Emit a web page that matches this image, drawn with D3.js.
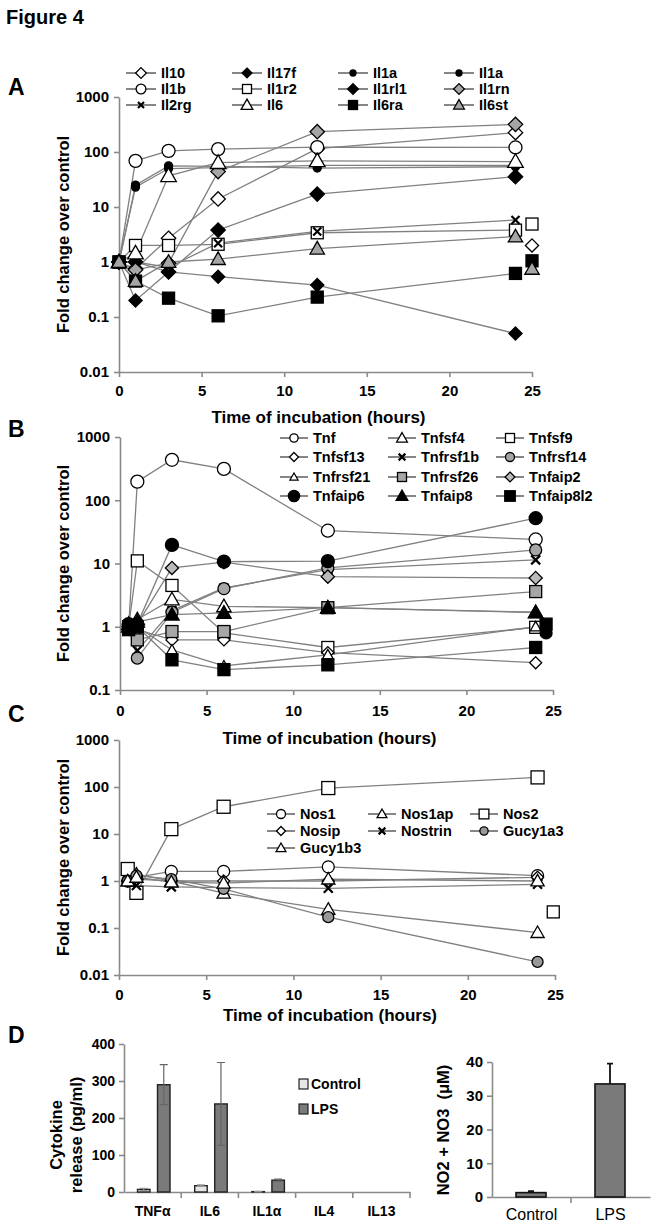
<!DOCTYPE html>
<html><head><meta charset="utf-8">
<script src="https://cdn.jsdelivr.net/npm/d3@7"></script>
<style>body{margin:0;background:#fff;} svg{display:block;}</style>
</head><body><svg id="c" width="653" height="1229"></svg>
<script>
// ---------- Panel A data ----------
const timeA = [0, 1, 3, 6, 12, 24];
const namesA = ["Il10","Il17f","Il1a","Il1a","Il1b","Il1r2","Il1rl1","Il1rn","Il2rg","Il6","Il6ra","Il6st"];
const il10   = [1, 0.75, 2.7, 14, 115, 225];
const il17f  = [1, 0.2, 0.66, 0.54, 0.38, 0.05];
const il1a_1 = [1, 25, 56, 55, 51, 54];
const il1a_2 = [1, 23, 50, 52, 57, 57];
const il1b   = [1, 69, 105, 113, 123, 121];
const il1r2  = [1, 2.0, 2.0, 2.1, 3.4, 3.8];
const il1rl1 = [1, 1.0, 0.66, 3.8, 17.2, 35.5];
const il1rn  = [1, 0.72, 0.95, 44, 234, 318];
const il2rg  = [1, 1.0, 0.8, 2.2, 3.6, 5.8];
const il6    = [1, 1.45, 37, 64, 69, 67];
const il6ra  = [1, 0.45, 0.22, 0.105, 0.23, 0.62];
const il6st  = [1, 0.45, 1.0, 1.13, 1.75, 2.9];
const extraTimeA = 25;
const extraA = [4.9, 2.0, 1.05, 0.95, 0.75];

// ---------- Panel B data ----------
const timeB = [0.5, 1, 3, 6, 12, 24];
const namesB = ["Tnf","Tnfsf4","Tnfsf9","Tnfsf13","Tnfrsf1b","Tnfrsf14","Tnfrsf21","Tnfrsf26","Tnfaip2","Tnfaip6","Tnfaip8","Tnfaip8l2"];
const tnf       = [1.0, 197, 436, 313, 33, 24];
const tnfsf4    = [1.1, 1.3, 2.7, 2.1, 2.0, 1.7];
const tnfsf9    = [1.0, 11, 4.5, 0.8, 0.47, 0.98];
const tnfsf13   = [1.0, 0.9, 0.62, 0.62, 0.39, 0.27];
const tnfrsf1b  = [1.0, 0.42, 1.8, 4.1, 8.0, 11.4];
const tnfrsf14  = [1.0, 0.32, 1.7, 4.0, 8.5, 16.4];
const tnfrsf21  = [1.1, 1.0, 0.43, 0.24, 0.36, 1.0];
const tnfrsf26  = [1.0, 0.62, 0.84, 0.84, 2.0, 3.6];
const tnfaip2   = [1.0, 1.1, 8.5, 10.5, 6.2, 5.9];
const tnfaip6   = [1.1, 1.1, 19.7, 10.7, 10.9, 52];
const tnfaip8   = [1.0, 1.2, 1.55, 1.66, 2.0, 1.68];
const tnfaip8l2 = [0.9, 1.0, 0.3, 0.21, 0.25, 0.47];
const extraTimeB = 24.6;
const extraB = [0.8, 1.1];

// ---------- Panel C data ----------
const timeC = [0.5, 1, 3, 6, 12, 24];
const namesC = ["Nos1","Nos1ap","Nos2","Nosip","Nostrin","Gucy1a3","Gucy1b3"];
const nos1    = [1.0, 1.2, 1.6, 1.6, 2.0, 1.3];
const nos1ap  = [1.0, 1.4, 1.0, 0.55, 0.25, 0.08];
const nos2    = [1.8, 0.56, 12.7, 38, 95, 160];
const nosip   = [1.0, 1.1, 1.0, 1.0, 1.0, 1.2];
const nostrin = [1.0, 0.8, 0.75, 0.72, 0.7, 0.85];
const gucy1a3 = [1.0, 1.3, 1.1, 0.68, 0.17, 0.019];
const gucy1b3 = [1.0, 1.2, 0.95, 0.9, 1.1, 1.0];
const extraTimeC = 24.9;
const extraC = [0.22];

// ---------- Panel D data ----------
const cytokines = ["TNFα","IL6","IL1α","IL4","IL13"];
const ctrlRelease = [7, 17, 1, 0, 0];
const ctrlErr = [3, 2, 0.5, 0, 0];
const lpsRelease = [290, 238, 32, 0, 0];
const lpsErr = [54, 112, 3, 0, 0];
const noGroups = ["Control","LPS"];
const noValues = [1.3, 33.5];
const noErr = [0.4, 6];

const logTicks = [0.01, 0.1, 1, 10, 100, 1000];
const timeTicks = [0, 5, 10, 15, 20, 25];

// ---------- drawing ----------
const FONT = '"Liberation Sans", Arial, Helvetica, sans-serif';
const svg = d3.select("#c").style("font-family", FONT);
const LINE = "#808080", AX = "#8a8a8a", GRAY = "#a6a6a6";

function marker(g, m, x, y, scale) {
  const s = m.s * (scale || 1);
  let el;
  if (m.t === "circle") el = g.append("circle").attr("cx", x).attr("cy", y).attr("r", s / 2);
  else if (m.t === "square") el = g.append("rect").attr("x", x - s / 2).attr("y", y - s / 2).attr("width", s).attr("height", s);
  else if (m.t === "diamond") el = g.append("path").attr("d", `M${x},${y - s * 0.6}L${x + s * 0.6},${y}L${x},${y + s * 0.6}L${x - s * 0.6},${y}Z`);
  else if (m.t === "triangle") el = g.append("path").attr("d", `M${x},${y - s * 0.6}L${x + s * 0.6},${y + s * 0.45}L${x - s * 0.6},${y + s * 0.45}Z`);
  else if (m.t === "x") {
    const h = s / 2;
    g.append("path").attr("d", `M${x - h},${y - h}L${x + h},${y + h}M${x - h},${y + h}L${x + h},${y - h}`)
      .attr("stroke", "#000").attr("stroke-width", 2.2).attr("fill", "none");
    return;
  }
  el.attr("stroke", "#000").attr("stroke-width", 1.3).attr("fill", m.f);
}

function logPanel(opt) {
  const x = d3.scaleLinear().domain([0, 25]).range(opt.xr);
  const y = d3.scaleLog().domain(opt.yd).range(opt.yr);
  const g = svg.append("g");
  const ya = g.append("g").attr("transform", `translate(${opt.xr[0]},0)`)
    .call(d3.axisLeft(y).tickValues(logTicks.filter(v => v >= opt.yd[0])).tickFormat(d => String(d)).tickSize(5).tickSizeOuter(0));
  const xa = g.append("g").attr("transform", `translate(0,${opt.yr[0]})`)
    .call(d3.axisBottom(x).tickValues(timeTicks).tickSize(5).tickSizeOuter(0));
  [ya, xa].forEach(a => {
    a.selectAll("path,line").attr("stroke", AX).attr("stroke-width", 1.6);
    a.selectAll("text").attr("fill", "#000").attr("font-size", 15).attr("font-weight", "bold").attr("font-family", FONT);
  });
  ya.selectAll("text").attr("x", -10);
  xa.selectAll("text").attr("y", opt.tickY);
  g.append("text").attr("x", (opt.xr[0] + opt.xr[1]) / 2 - 7).attr("y", opt.titleY)
    .attr("text-anchor", "middle").attr("font-size", 17).attr("font-weight", "bold").text("Time of incubation (hours)");
  g.append("text").attr("transform", `translate(${opt.ylabX},${(opt.yr[0] + opt.yr[1]) / 2}) rotate(-90)`)
    .attr("text-anchor", "middle").attr("dominant-baseline", "central")
    .attr("font-size", 16.5).attr("font-weight", "bold").text("Fold change over control");
  const lg = d3.line().x(d => x(d[0])).y(d => y(d[1]));
  opt.series.forEach(s => {
    g.append("path").attr("d", lg(opt.times.map((t, i) => [t, s.v[i]])))
      .attr("fill", "none").attr("stroke", LINE).attr("stroke-width", 1.3);
  });
  opt.series.forEach(s => {
    opt.times.forEach((t, i) => marker(g, s.m, x(t), y(s.v[i])));
  });
  (opt.extras || []).forEach(e => marker(g, e.m, x(e.t), y(e.v)));
  opt.series.forEach((s, i) => {
    const col = i % opt.cols, row = Math.floor(i / opt.cols);
    const lx = opt.legX[col], ly = opt.legY[row];
    g.append("line").attr("x1", lx).attr("x2", lx + opt.legLen).attr("y1", ly).attr("y2", ly)
      .attr("stroke", "#444").attr("stroke-width", 1.3);
    marker(g, s.lm || s.m, lx + opt.legLen / 2, ly, 0.75);
    g.append("text").attr("x", lx + opt.legLen + 5).attr("y", ly).attr("dominant-baseline", "central")
      .attr("font-size", 14.5).attr("font-weight", "bold").text(s.name);
  });
}

const OPEN = "#fff", BLACK = "#000";

// Panel A
const seriesA = [
  {v: il10,  m: {t: "diamond", f: OPEN, s: 12}},
  {v: il17f, m: {t: "diamond", f: BLACK, s: 11}},
  {v: il1a_1, m: {t: "circle", f: BLACK, s: 8}},
  {v: il1a_2, m: {t: "circle", f: BLACK, s: 8}},
  {v: il1b,  m: {t: "circle", f: OPEN, s: 13}},
  {v: il1r2, m: {t: "square", f: OPEN, s: 12}},
  {v: il1rl1, m: {t: "diamond", f: BLACK, s: 12}},
  {v: il1rn, m: {t: "diamond", f: GRAY, s: 12}},
  {v: il2rg, m: {t: "x", f: BLACK, s: 8}},
  {v: il6,   m: {t: "triangle", f: OPEN, s: 13}},
  {v: il6ra, m: {t: "square", f: BLACK, s: 12}},
  {v: il6st, m: {t: "triangle", f: GRAY, s: 12}}
].map((s, i) => Object.assign(s, {name: namesA[i]}));
const extraMarkA = [{t: "square", f: OPEN, s: 12}, {t: "diamond", f: OPEN, s: 11}, {t: "square", f: BLACK, s: 12}, {t: "circle", f: BLACK, s: 9}, {t: "triangle", f: GRAY, s: 12}];
logPanel({
  xr: [119, 532], yd: [0.01, 1000], yr: [372, 97], times: timeA, series: seriesA,
  extras: extraA.map((v, i) => ({t: extraTimeA, v, m: extraMarkA[i]})),
  tickY: 13, titleY: 423, ylabX: 63, cols: 4, legLen: 30,
  legX: [126, 232, 338, 444], legY: [73, 89, 105]
});

// Panel B
const seriesB = [
  {v: tnf, m: {t: "circle", f: OPEN, s: 13}, lm: {t: "circle", f: OPEN, s: 11}},
  {v: tnfsf4, m: {t: "triangle", f: OPEN, s: 12}},
  {v: tnfsf9, m: {t: "square", f: OPEN, s: 12}},
  {v: tnfsf13, m: {t: "diamond", f: OPEN, s: 10}},
  {v: tnfrsf1b, m: {t: "x", f: BLACK, s: 9}},
  {v: tnfrsf14, m: {t: "circle", f: GRAY, s: 12}},
  {v: tnfrsf21, m: {t: "triangle", f: OPEN, s: 9}},
  {v: tnfrsf26, m: {t: "square", f: GRAY, s: 12}},
  {v: tnfaip2, m: {t: "diamond", f: "#bbb", s: 11}},
  {v: tnfaip6, m: {t: "circle", f: BLACK, s: 13}, lm: {t: "circle", f: BLACK, s: 15}},
  {v: tnfaip8, m: {t: "triangle", f: BLACK, s: 12}, lm: {t: "triangle", f: BLACK, s: 13}},
  {v: tnfaip8l2, m: {t: "square", f: BLACK, s: 12}, lm: {t: "square", f: BLACK, s: 14}}
].map((s, i) => Object.assign(s, {name: namesB[i]}));
const extraMarkB = [{t: "circle", f: BLACK, s: 12}, {t: "square", f: BLACK, s: 12}];
logPanel({
  xr: [120, 553], yd: [0.1, 1000], yr: [690, 437], times: timeB, series: seriesB,
  extras: extraB.map((v, i) => ({t: extraTimeB, v, m: extraMarkB[i]})),
  tickY: 15, titleY: 744, ylabX: 63, cols: 3, legLen: 28,
  legX: [280, 388, 496], legY: [438, 457, 477, 496]
});

// Panel C
const seriesC = [
  {v: nos1, m: {t: "circle", f: OPEN, s: 12}},
  {v: nos1ap, m: {t: "triangle", f: OPEN, s: 11}},
  {v: nos2, m: {t: "square", f: OPEN, s: 13}},
  {v: nosip, m: {t: "diamond", f: OPEN, s: 10}},
  {v: nostrin, m: {t: "x", f: BLACK, s: 9}},
  {v: gucy1a3, m: {t: "circle", f: "#999", s: 11}},
  {v: gucy1b3, m: {t: "triangle", f: OPEN, s: 11}}
].map((s, i) => Object.assign(s, {name: namesC[i]}));
logPanel({
  xr: [119, 555], yd: [0.01, 1000], yr: [975, 740], times: timeC, series: seriesC,
  extras: extraC.map(v => ({t: extraTimeC, v, m: {t: "square", f: OPEN, s: 12}})),
  tickY: 14, titleY: 1021, ylabX: 63, cols: 3, legLen: 28,
  legX: [267, 368, 470], legY: [814, 831, 848]
});

// Titles and panel letters
svg.append("text").attr("x", 6).attr("y", 24).attr("font-size", 20).attr("font-weight", "bold").text("Figure 4");
[["A", 95], ["B", 437], ["C", 722], ["D", 1043]].forEach(([t, y]) =>
  svg.append("text").attr("x", 8).attr("y", y).attr("font-size", 23).attr("font-weight", "bold").text(t));

// Panel D left: cytokine release
{
  const x = d3.scaleBand().domain(cytokines).range([124, 410]);
  const y = d3.scaleLinear().domain([0, 400]).range([1192, 1044]);
  const g = svg.append("g");
  const ya = g.append("g").attr("transform", "translate(124,0)")
    .call(d3.axisLeft(y).tickValues([0, 100, 200, 300, 400]).tickSize(5).tickSizeOuter(0));
  const xa = g.append("g").attr("transform", "translate(0,1192)")
    .call(d3.axisBottom(x).tickSize(0).tickSizeOuter(0));
  cytokines.forEach(c => g.append("line").attr("x1", x(c) + x.bandwidth()).attr("x2", x(c) + x.bandwidth())
    .attr("y1", 1192).attr("y2", 1198).attr("stroke", AX).attr("stroke-width", 1.6));
  [ya, xa].forEach(a => {
    a.selectAll("path,line").attr("stroke", AX).attr("stroke-width", 1.6);
    a.selectAll("text").attr("fill", "#000").attr("font-size", 14).attr("font-weight", "bold").attr("font-family", FONT);
  });
  ya.selectAll("text").attr("x", -9);
  xa.selectAll("text").attr("y", 14);
  const bw = 12.5;
  cytokines.forEach((c, i) => {
    const bars = [[13.5, ctrlRelease[i], ctrlErr[i], "#e6e6e6", "#999"], [33.5, lpsRelease[i], lpsErr[i], "#7a7a7a", "#666"]];
    bars.forEach(([off, v, e, fill, ec]) => {
      const bx = x(c) + off;
      if (v > 0) g.append("rect").attr("x", bx).attr("y", y(v)).attr("width", bw).attr("height", y(0) - y(v))
        .attr("fill", fill).attr("stroke", "#222").attr("stroke-width", 1.4);
      if (e > 0) {
        const cx = bx + bw / 2;
        g.append("path").attr("d", `M${cx},${y(v + e)}V${y(Math.max(v - e, 0))}M${cx - 4},${y(v + e)}H${cx + 4}M${cx - 4},${y(Math.max(v - e, 0))}H${cx + 4}`)
          .attr("stroke", ec).attr("stroke-width", 1.2).attr("fill", "none");
      }
    });
  });
  [["Control", "#e6e6e6", 1084], ["LPS", "#7a7a7a", 1109]].forEach(([t, f, ly]) => {
    g.append("rect").attr("x", 299).attr("y", ly - 5).attr("width", 9).attr("height", 10).attr("fill", f).attr("stroke", "#222").attr("stroke-width", 1.2);
    g.append("text").attr("x", 311).attr("y", ly).attr("dominant-baseline", "central").attr("font-size", 14).attr("font-weight", "bold").text(t);
  });
  g.append("text").attr("transform", "translate(56,1135) rotate(-90)").attr("text-anchor", "middle").attr("dominant-baseline", "central")
    .attr("font-size", 16.5).attr("font-weight", "bold").text("Cytokine");
  g.append("text").attr("transform", "translate(76,1135) rotate(-90)").attr("text-anchor", "middle").attr("dominant-baseline", "central")
    .attr("font-size", 16.5).attr("font-weight", "bold").text("release (pg/ml)");
}

// Panel D right: NO2 + NO3
{
  const x = d3.scaleBand().domain(noGroups).range([492, 650]);
  const y = d3.scaleLinear().domain([0, 40]).range([1197, 1062]);
  const g = svg.append("g");
  const ya = g.append("g").attr("transform", "translate(492,0)")
    .call(d3.axisLeft(y).tickValues([0, 10, 20, 30, 40]).tickSize(5).tickSizeOuter(0));
  const xa = g.append("g").attr("transform", "translate(0,1197)")
    .call(d3.axisBottom(x).tickSize(0).tickSizeOuter(0));
  g.append("line").attr("x1", x("LPS")).attr("x2", x("LPS")).attr("y1", 1197).attr("y2", 1203).attr("stroke", AX).attr("stroke-width", 1.6);
  [ya, xa].forEach(a => {
    a.selectAll("path,line").attr("stroke", AX).attr("stroke-width", 1.6);
    a.selectAll("text").attr("fill", "#000").attr("font-family", FONT);
  });
  ya.selectAll("text").attr("x", -9).attr("font-size", 15).attr("font-weight", "bold");
  xa.selectAll("text").attr("y", 12).attr("font-size", 16);
  noGroups.forEach((c, i) => {
    const bx = x(c) + 24, bw = 30, v = noValues[i], e = noErr[i];
    g.append("rect").attr("x", bx).attr("y", y(v)).attr("width", bw).attr("height", y(0) - y(v))
      .attr("fill", "#7a7a7a").attr("stroke", "#111").attr("stroke-width", 1.6);
    const cx = bx + bw / 2;
    g.append("path").attr("d", `M${cx},${y(v)}V${y(v + e)}M${cx - 3},${y(v + e)}H${cx + 3}`)
      .attr("stroke", "#111").attr("stroke-width", 1.8).attr("fill", "none");
  });
  g.append("text").attr("transform", "translate(443,1130) rotate(-90)").attr("text-anchor", "middle").attr("dominant-baseline", "central")
    .attr("font-size", 16.5).attr("font-weight", "bold").attr("xml:space", "preserve").text("NO2 + NO3  (μM)");
}
</script></body></html>
